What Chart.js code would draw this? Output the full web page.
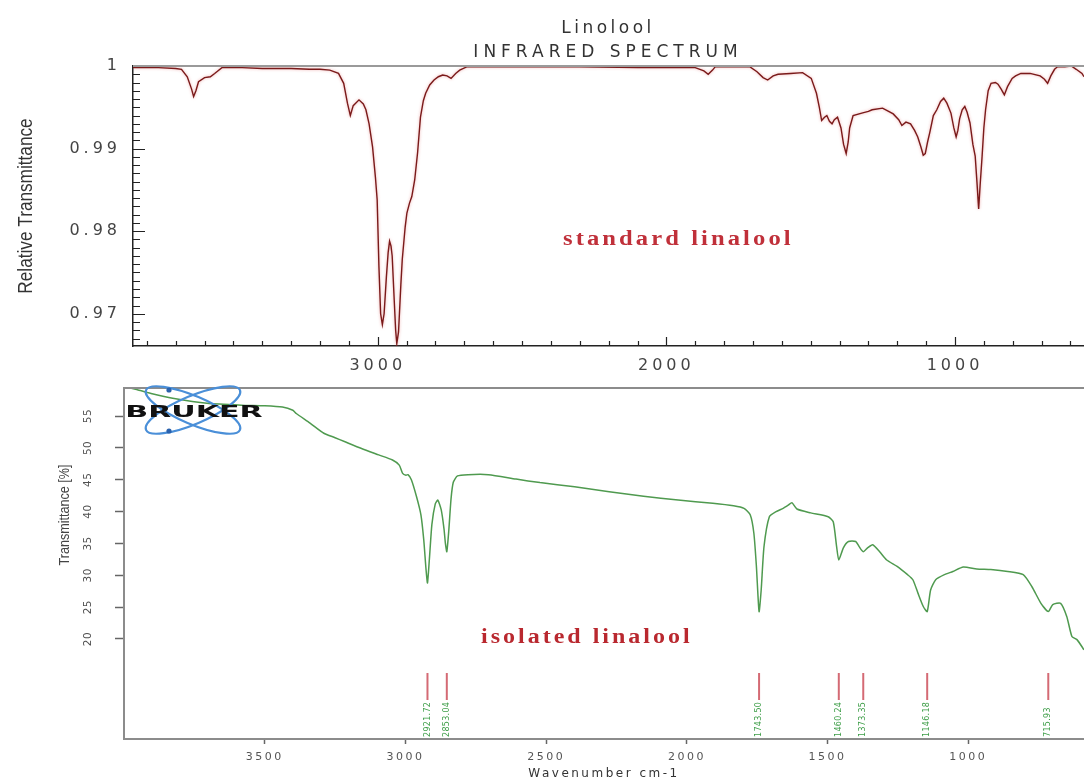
<!DOCTYPE html>
<html>
<head>
<meta charset="utf-8">
<title>Linalool IR spectra</title>
<script src="https://cdn.jsdelivr.net/npm/chart.js@4.4.0/dist/chart.umd.min.js"></script>
<style>
  html, body { margin: 0; padding: 0; background: #fff; overflow: hidden; }
  #wrap { position: relative; width: 1084px; height: 781px; }
  #wrap canvas { position: absolute; left: 0; top: 0; }
</style>
</head>
<body>
<div id="wrap">
  <canvas id="topChart" width="1084" height="781"></canvas>
  <canvas id="bottomChart" width="1084" height="781"></canvas>
</div>
<script>
// Standard linalool (reference spectrum), wavenumber in cm-1 and relative transmittance
const topWavenumbers = [
  3848, 3760, 3700, 3680, 3660, 3645, 3638, 3630, 3621, 3600, 3580, 3565, 3540, 3470, 3400, 3300,
  3237, 3200, 3166, 3136, 3118, 3105, 3095, 3085, 3065, 3050, 3041, 3030, 3018, 3008, 3002, 2996,
  2990, 2984, 2978, 2970, 2964, 2959, 2954, 2950, 2943, 2938, 2934, 2928, 2920, 2915, 2905, 2899,
  2890, 2882, 2872, 2862, 2852, 2842, 2834, 2820, 2805, 2790, 2775, 2760, 2746, 2730, 2716, 2692,
  2600, 2447, 2300, 2100, 1900, 1870, 1855, 1840, 1831, 1750, 1710, 1686, 1665, 1649, 1630, 1613,
  1570, 1528, 1498, 1480, 1470, 1462, 1452, 1444, 1435, 1426, 1418, 1407, 1395, 1386, 1377, 1370,
  1365, 1353, 1323, 1300, 1287, 1251, 1230, 1214, 1195, 1184, 1170, 1154, 1140, 1129, 1118, 1110,
  1103, 1095, 1087, 1075, 1063, 1050, 1039, 1028, 1014, 1004, 996, 990, 984, 975, 966, 958,
  948, 938, 930, 924, 918, 913, 906, 900, 894, 885, 875, 860, 851, 840, 829, 818,
  802, 790, 772, 740, 705, 690, 679, 668, 655, 645, 620, 597, 580, 560, 553
];
const topTransmittance = [
  0.9998, 0.9998, 0.9997, 0.9996, 0.9987, 0.9972, 0.9963, 0.9970, 0.9981, 0.9986, 0.9987, 0.9991, 0.9998, 0.9998, 0.9997, 0.9997,
  0.9996, 0.9996, 0.9995, 0.9991, 0.9979, 0.9955, 0.9940, 0.9952, 0.9959, 0.9954, 0.9947, 0.9930, 0.9902, 0.9865, 0.9838, 0.9758,
  0.9700, 0.9687, 0.9700, 0.9745, 0.9774, 0.9788, 0.9782, 0.9770, 0.9717, 0.9680, 0.9664, 0.9678, 0.9735, 0.9766, 0.9805, 0.9822,
  0.9834, 0.9842, 0.9862, 0.9895, 0.9938, 0.9958, 0.9967, 0.9977, 0.9983, 0.9987, 0.9989, 0.9988, 0.9985, 0.9991, 0.9995, 0.9999,
  0.9999, 0.9999, 0.9999, 0.9998, 0.9998, 0.9994, 0.9990, 0.9995, 0.9999, 0.9999, 0.9999, 0.9993, 0.9986, 0.9983, 0.9988, 0.9990,
  0.9991, 0.9992, 0.9985, 0.9967, 0.9950, 0.9934, 0.9938, 0.9940, 0.9933, 0.9930, 0.9935, 0.9938, 0.9925, 0.9905, 0.9894, 0.9908,
  0.9925, 0.9940, 0.9943, 0.9945, 0.9947, 0.9949, 0.9945, 0.9942, 0.9935, 0.9928, 0.9932, 0.9930, 0.9922, 0.9914, 0.9902, 0.9892,
  0.9894, 0.9908, 0.9920, 0.9940, 0.9947, 0.9957, 0.9961, 0.9955, 0.9943, 0.9925, 0.9914, 0.9922, 0.9936, 0.9947, 0.9951, 0.9944,
  0.9931, 0.9905, 0.9891, 0.9860, 0.9827, 0.9855, 0.9891, 0.9925, 0.9947, 0.9970, 0.9979, 0.9980, 0.9978, 0.9972, 0.9965, 0.9975,
  0.9985, 0.9988, 0.9991, 0.9991, 0.9988, 0.9984, 0.9979, 0.9988, 0.9996, 0.9999, 0.9999, 1.0000, 0.9996, 0.9991, 0.9987
];
const topXLabels = [3000, 2000, 1000];
const topYLabels = [0.97, 0.98, 0.99, 1];

// Isolated linalool (Bruker FTIR), wavenumber in cm-1 and transmittance in %
const bottomWavenumbers = [
  4000, 3950, 3900, 3827, 3705, 3583, 3500, 3437, 3400, 3388, 3339, 3290, 3250, 3217, 3156, 3095,
  3046, 3022, 3010, 2998, 2991, 2979, 2961, 2945, 2935, 2927, 2921.72, 2915, 2906, 2894, 2885, 2873,
  2863, 2858, 2853.04, 2846, 2838, 2830, 2815, 2778, 2705, 2607, 2522, 2399, 2276, 2154, 2031, 1908,
  1834, 1797, 1775, 1762, 1753, 1743.5, 1736, 1726, 1707, 1683, 1658, 1640, 1627, 1609, 1560, 1498,
  1480, 1468, 1460.24, 1444, 1426, 1400, 1388, 1373.35, 1358, 1340, 1315, 1290, 1253, 1216, 1197, 1179,
  1160, 1146.18, 1134, 1116, 1085, 1055, 1018, 970, 920, 860, 805, 774, 742, 715.93, 700, 672,
  650, 632, 614, 589
];
const bottomTransmittance = [
  59.6, 59.1, 58.5, 57.8, 57.0, 56.7, 56.6, 56.4, 55.9, 55.4, 53.9, 52.3, 51.6, 51.0, 49.9, 48.9,
  48.1, 47.3, 46.0, 45.7, 45.8, 45.0, 42.4, 39.5, 35.6, 31.0, 28.8, 32.5, 38.0, 41.2, 41.8, 40.3,
  37.3, 35.0, 33.7, 37.0, 42.0, 44.6, 45.6, 45.8, 45.8, 45.1, 44.55, 43.9, 43.1, 42.4, 41.8, 41.3,
  40.9, 40.5, 39.5, 36.6, 31.4, 24.3, 27.7, 34.5, 39.2, 40.0, 40.5, 41.0, 41.4, 40.4, 39.8, 39.2,
  38.4, 34.5, 32.4, 34.3, 35.3, 35.3, 34.5, 33.7, 34.3, 34.8, 33.7, 32.4, 31.4, 30.1, 29.3, 27.2,
  25.1, 24.3, 27.7, 29.3, 30.1, 30.6, 31.3, 31.0, 30.9, 30.6, 30.1, 28.2, 25.6, 24.3, 25.4, 25.6,
  23.5, 20.4, 19.9, 18.3
];
const bottomXLabels = [3500, 3000, 2500, 2000, 1500, 1000];
const bottomYLabels = [20, 25, 30, 35, 40, 45, 50, 55];

// Picked peaks shown under the isolated spectrum
const peakWavenumbers = [2921.72, 2853.04, 1743.50, 1460.24, 1373.35, 1146.18, 715.93];

function toPoints(xs, ys) {
  return xs.map((x, i) => ({ x: x, y: ys[i] }));
}

// ---------- upper chart: standard linalool ----------
const topDecor = {
  id: 'topDecor',
  beforeDraw(chart) {
    chart.ctx.letterSpacing = '4px';
  },
  beforeDatasetsDraw(chart) {
    const c = chart.ctx;
    c.save();
    c.shadowColor = 'rgba(225, 110, 110, 0.6)';
    c.shadowBlur = 3;
  },
  afterDatasetsDraw(chart) {
    chart.ctx.restore();
  },
  afterDraw(chart) {
    const c = chart.ctx;
    const a = chart.chartArea;
    const xs = chart.scales.x;
    const ys = chart.scales.y;
    c.save();

    // grey frame along the top
    c.strokeStyle = '#9a9a9a';
    c.lineWidth = 2;
    c.beginPath();
    c.moveTo(a.left, a.top);
    c.lineTo(a.right, a.top);
    c.stroke();

    // tick marks pointing into the plot
    c.strokeStyle = '#222';
    c.lineWidth = 1.2;
    c.beginPath();
    for (let w = 600; w <= 3800; w += 100) {
      const px = Math.round(xs.getPixelForValue(w)) + 0.5;
      const len = w % 1000 === 0 ? 9 : 5;
      c.moveTo(px, a.bottom);
      c.lineTo(px, a.bottom - len);
    }
    for (let i = 967; i <= 999; i++) {
      const py = Math.round(ys.getPixelForValue(i / 1000)) + 0.5;
      const len = i % 10 === 0 ? 12 : 7;
      c.moveTo(a.left, py);
      c.lineTo(a.left + len, py);
    }
    c.stroke();

    // title
    c.font = '17px "DejaVu Sans"';
    c.fillStyle = '#333';
    c.textAlign = 'center';
    c.textBaseline = 'alphabetic';
    c.letterSpacing = '3.5px';
    c.fillText('Linolool', 608, 33);
    c.letterSpacing = '5px';
    c.fillText('INFRARED SPECTRUM', 608, 57);

    // y axis title
    c.save();
    c.letterSpacing = '0px';
    c.translate(32, (a.top + a.bottom) / 2);
    c.rotate(-Math.PI / 2);
    c.scale(0.86, 1);
    c.font = '20px "Liberation Sans"';
    c.fillStyle = '#333';
    c.fillText('Relative Transmittance', 0, 0);
    c.restore();

    // sample name
    c.save();
    c.letterSpacing = '2.5px';
    c.translate(563, 245);
    c.scale(1.23, 1);
    c.font = 'bold 20px "Liberation Serif"';
    c.fillStyle = '#c0303a';
    c.textAlign = 'left';
    c.fillText('standard linalool', 0, 0);
    c.restore();

    c.restore();
  }
};

const topChart = new Chart(document.getElementById('topChart'), {
  type: 'line',
  data: {
    datasets: [{
      data: toPoints(topWavenumbers, topTransmittance),
      borderColor: '#7a1a1a',
      borderWidth: 1.4,
      pointRadius: 0,
      tension: 0,
      fill: false
    }]
  },
  options: {
    responsive: false,
    animation: false,
    devicePixelRatio: 1,
    layout: { padding: { top: 66, left: 0, right: 0, bottom: 781 - 346 - 40 } },
    plugins: { legend: { display: false }, tooltip: { enabled: false } },
    scales: {
      x: {
        type: 'linear',
        reverse: true,
        min: 553,
        max: 3848,
        afterFit: s => { s.height = 40; },
        afterBuildTicks: s => { s.ticks = topXLabels.map(v => ({ value: v })); },
        ticks: {
          color: '#444',
          font: { family: 'DejaVu Sans', size: 16 },
          padding: 10,
          maxRotation: 0,
          autoSkip: false,
          callback: v => String(v)
        },
        grid: { drawOnChartArea: false, drawTicks: false },
        border: { color: '#222', width: 1.5 }
      },
      y: {
        min: 0.9661,
        max: 1.0,
        afterFit: s => { s.width = 133; },
        afterBuildTicks: s => { s.ticks = topYLabels.map(v => ({ value: v })); },
        ticks: {
          color: '#444',
          font: { family: 'DejaVu Sans', size: 16 },
          padding: 12,
          callback: v => (v === 1 ? '1' : v.toFixed(2))
        },
        grid: { drawOnChartArea: false, drawTicks: false },
        border: { color: '#222', width: 1.5 }
      }
    }
  },
  plugins: [topDecor]
});

// ---------- lower chart: isolated linalool ----------
function drawBrukerLogo(c) {
  c.save();
  c.letterSpacing = '0px';
  c.strokeStyle = '#4a8fd8';
  c.lineWidth = 2.2;
  [0.4, -0.4].forEach(rot => {
    c.beginPath();
    c.ellipse(193, 410, 51, 14, rot, 0, Math.PI * 2);
    c.stroke();
  });
  c.fillStyle = '#2a62ad';
  [[169, 390], [169, 431]].forEach(p => {
    c.beginPath();
    c.arc(p[0], p[1], 2.6, 0, Math.PI * 2);
    c.fill();
  });
  c.translate(194, 417);
  c.scale(1.88, 1);
  c.font = 'bold 16px "DejaVu Sans"';
  c.fillStyle = '#111';
  c.textAlign = 'center';
  c.textBaseline = 'alphabetic';
  c.fillText('BRUKER', 0, 0);
  c.restore();
}

const bottomDecor = {
  id: 'bottomDecor',
  beforeDraw(chart) {
    chart.ctx.letterSpacing = '2.5px';
  },
  afterDraw(chart) {
    const c = chart.ctx;
    const a = chart.chartArea;
    const xs = chart.scales.x;
    const ys = chart.scales.y;
    c.save();

    // grey frame along the top
    c.strokeStyle = '#8c8c8c';
    c.lineWidth = 2;
    c.beginPath();
    c.moveTo(a.left - 1, a.top);
    c.lineTo(a.right, a.top);
    c.stroke();

    // rotated y tick labels
    c.letterSpacing = '0.5px';
    c.font = '10.5px "DejaVu Sans"';
    c.fillStyle = '#505050';
    c.textAlign = 'center';
    c.textBaseline = 'middle';
    bottomYLabels.forEach(v => {
      c.save();
      c.translate(88, ys.getPixelForValue(v));
      c.rotate(-Math.PI / 2);
      c.fillText(String(v), 0, 0);
      c.restore();
    });

    // y axis title
    c.save();
    c.letterSpacing = '0px';
    c.translate(69, 515);
    c.rotate(-Math.PI / 2);
    c.scale(0.9, 1);
    c.font = '14px "Liberation Sans"';
    c.fillStyle = '#444';
    c.textAlign = 'center';
    c.textBaseline = 'alphabetic';
    c.fillText('Transmittance [%]', 0, 0);
    c.restore();

    // peak markers with their wavenumbers
    peakWavenumbers.forEach(w => {
      const px = xs.getPixelForValue(w);
      c.strokeStyle = '#d46a74';
      c.lineWidth = 2;
      c.beginPath();
      c.moveTo(px, 673);
      c.lineTo(px, 700);
      c.stroke();
      c.save();
      c.translate(px, 737);
      c.rotate(-Math.PI / 2);
      c.letterSpacing = '0.3px';
      c.font = '8px "DejaVu Sans"';
      c.fillStyle = '#3e9e48';
      c.textAlign = 'left';
      c.textBaseline = 'middle';
      c.fillText(w.toFixed(2), 0, 0);
      c.restore();
    });

    // sample name
    c.save();
    c.letterSpacing = '2.5px';
    c.translate(481, 643);
    c.scale(1.2, 1);
    c.font = 'bold 20px "Liberation Serif"';
    c.fillStyle = '#b9282f';
    c.textAlign = 'left';
    c.textBaseline = 'alphabetic';
    c.fillText('isolated linalool', 0, 0);
    c.restore();

    drawBrukerLogo(c);
    c.restore();
  }
};

const bottomChart = new Chart(document.getElementById('bottomChart'), {
  type: 'line',
  data: {
    datasets: [{
      data: toPoints(bottomWavenumbers, bottomTransmittance),
      borderColor: '#4f9a4f',
      borderWidth: 1.5,
      pointRadius: 0,
      tension: 0.2,
      fill: false
    }]
  },
  options: {
    responsive: false,
    animation: false,
    devicePixelRatio: 1,
    layout: { padding: { top: 388, left: 0, right: 0, bottom: 0 } },
    plugins: { legend: { display: false }, tooltip: { enabled: false } },
    scales: {
      x: {
        type: 'linear',
        reverse: true,
        min: 589,
        max: 4000,
        afterFit: s => { s.height = 42; },
        afterBuildTicks: s => { s.ticks = bottomXLabels.map(v => ({ value: v })); },
        ticks: {
          color: '#555',
          font: { family: 'DejaVu Sans', size: 11 },
          padding: 7,
          maxRotation: 0,
          autoSkip: false,
          callback: v => String(v)
        },
        grid: { drawOnChartArea: false, drawTicks: true, tickLength: 5, tickColor: '#666', tickWidth: 1.5 },
        border: { color: '#8c8c8c', width: 2 },
        title: {
          display: true,
          text: 'Wavenumber cm-1',
          color: '#333',
          font: { family: 'DejaVu Sans', size: 12 },
          padding: { top: 0, bottom: 0 }
        }
      },
      y: {
        min: 4.3,
        max: 59.4,
        afterFit: s => { s.width = 124; },
        afterBuildTicks: s => { s.ticks = bottomYLabels.map(v => ({ value: v })); },
        ticks: { display: false },
        grid: { drawOnChartArea: false, drawTicks: true, tickLength: 9, tickColor: '#666', tickWidth: 1.5 },
        border: { color: '#8c8c8c', width: 2 }
      }
    }
  },
  plugins: [bottomDecor]
});
</script>
</body>
</html>
